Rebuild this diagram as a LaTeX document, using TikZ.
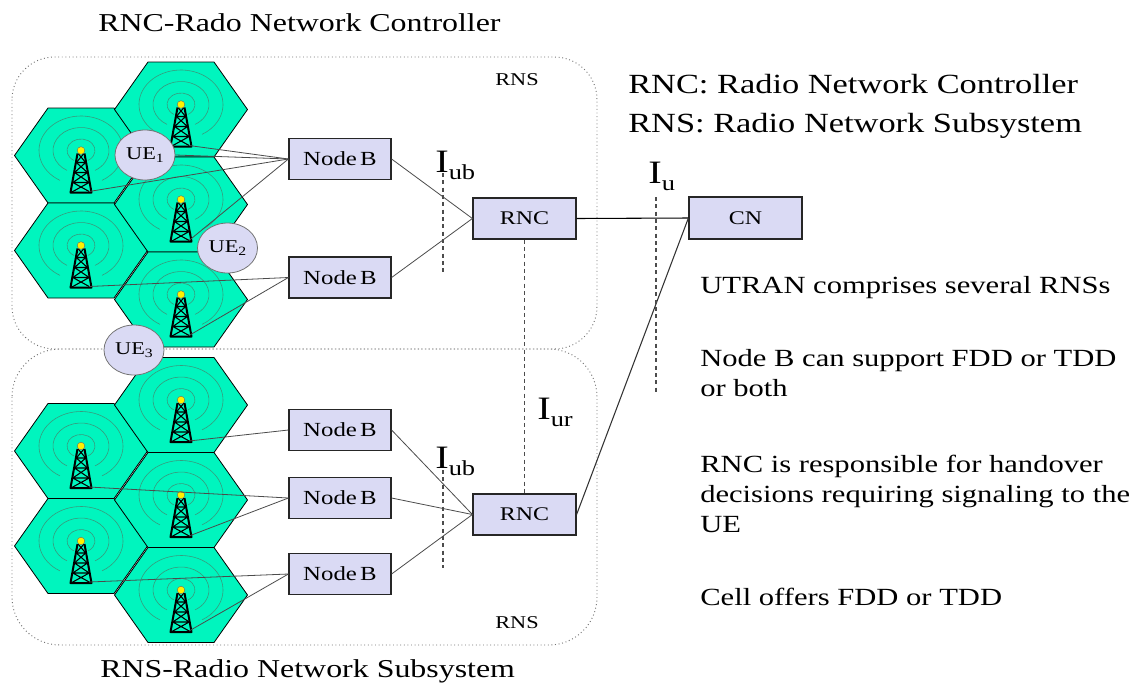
\documentclass[tikz,border=0pt]{standalone}
\usepackage{fontspec}
\setmainfont{Liberation Serif}[FakeStretch=1.24]
\usetikzlibrary{shapes.geometric, positioning, calc}

\definecolor{cellgreen}{RGB}{0,245,190}
\definecolor{wavegreen}{RGB}{55,155,125}
\definecolor{boxfill}{RGB}{218,218,244}
\definecolor{wiregray}{RGB}{75,75,75}

\tikzset{
    cell/.pic={
        % hexagonal cell
        \draw[line width=0.6pt, fill=cellgreen]
            (-66.5,0) -- (-33,-47.5) -- (33,-47.5) -- (66.5,0)
            -- (33,47.5) -- (-33,47.5) -- cycle;
        % radio waves round the antenna
        \foreach \rx/\ry in {14/11.5, 28/23, 42/34.5}
            \draw[wavegreen, line width=0.45pt]
                (0,-5) ++({\rx*cos(120)},{\ry*sin(120)})
                arc[start angle=120, end angle=420, x radius=\rx, y radius=\ry];
        % lattice mast
        \draw[line width=1.5pt, line join=round] (-3.5,-2) -- (-10.5,37) -- (10.5,37) -- (3.5,-2);
        \draw[line width=0.8pt]
            (-4.7,7) -- (4.7,7) (-6.5,17) -- (6.5,17) (-8.2,27) -- (8.2,27)
            (-3,-2) -- (4.7,7) (3,-2) -- (-4.7,7)
            (-4.7,7) -- (6.5,17) (4.7,7) -- (-6.5,17)
            (-6.5,17) -- (8.2,27) (6.5,17) -- (-8.2,27)
            (-8.2,27) -- (10,37) (8.2,27) -- (-10,37);
        \filldraw[fill=yellow, draw=black!60, line width=0.3pt] (0,-5) circle[radius=3.8];
        \coordinate (-foot) at (8,36);
    },
    rnsbox/.style={draw=black!55, dotted, line width=0.7pt},
    nodeb/.style={draw=black!85, fill=boxfill, line width=0.9pt, minimum width=76.5pt, minimum height=30.75pt, inner sep=0pt, font=\fontsize{15}{18}\selectfont},
    ctrl/.style={nodeb, minimum width=77.25pt, font=\fontsize{14.5}{17}\selectfont},
    ue/.style={ellipse, draw=black!55, fill=boxfill, line width=0.6pt, minimum width=45pt, minimum height=37.5pt, inner sep=0pt, font=\fontsize{13.5}{16}\selectfont},
    wire/.style={draw=wiregray, line width=0.6pt},
    iface/.style={draw=black!70, dashed, dash pattern=on 3pt off 2.5pt, line width=0.8pt},
    ifacelabel/.style={inner sep=0pt, anchor=base west},
    heading/.style={inner sep=0pt, anchor=base west, font=\fontsize{19.3}{22}\selectfont},
    legend/.style={inner sep=0pt, anchor=base west, font=\fontsize{20.8}{24}\selectfont},
    note/.style={inner sep=0pt, anchor=base west, align=left, font=\fontsize{18.5}{22.5}\selectfont},
    rnslabel/.style={inner sep=0pt, anchor=base west, font=\fontsize{13.5}{16}\selectfont},
}

% interface name: big I with lowered suffix
\newcommand{\ifname}[1]{{\fontsize{24.5}{26}\selectfont I}\raisebox{-5.5pt}{\fontsize{16}{18}\selectfont #1}}
\newcommand{\uename}[1]{UE\raisebox{-2.5pt}{\fontsize{9.5}{11}\selectfont #1}}

\begin{document}
\begin{tikzpicture}[x=0.75pt, y=-0.75pt]
    \useasboundingbox (0,0) rectangle (1138,686);

    % RNS frames
    \draw[rnsbox, rounded corners=32pt] (12,57) rectangle (597,349);
    \draw[rnsbox, rounded corners=36pt] (12,349) rectangle (597,645);

    % cells of the upper RNS
    \pic (ta) at (81,155.5) {cell};
    \pic (td) at (81,250.5) {cell};
    \pic (tb) at (181,109.5) {cell};
    \pic (tc) at (181,204.5) {cell};
    \pic (te) at (181,299.5) {cell};

    % cells of the lower RNS
    \pic (ba) at (81,451) {cell};
    \pic (bd) at (81,546) {cell};
    \pic (bb) at (181,405) {cell};
    \pic (bc) at (181,500) {cell};
    \pic (be) at (181,595) {cell};

    % Node Bs, RNCs, CN
    \node[nodeb] (nb1) at (340,159) {Node\,B};
    \node[nodeb] (nb2) at (340,277.5) {Node\,B};
    \node[nodeb] (nb3) at (340,430) {Node\,B};
    \node[nodeb] (nb4) at (340,498) {Node\,B};
    \node[nodeb] (nb5) at (340,574) {Node\,B};
    \node[ctrl] (rnc1) at (524.5,218.5) {RNC};
    \node[ctrl] (rnc2) at (524.5,514.5) {RNC};
    \node[ctrl, minimum width=84.75pt, minimum height=31.5pt] (cn) at (745.5,218) {CN};

    % mobiles
    \node[ue] (ue1) at (145,155) {\uename{1}};
    \node[ue] (ue2) at (227.5,248) {\uename{2}};
    \node[ue] (ue3) at (134,350) {\uename{3}};

    % radio links to the masts
    \draw[wire] (nb1.west) -- (tb-foot);
    \draw[wire] (nb1.west) -- (ue1.east);
    \draw[wire] (nb1.west) -- (ta-foot);
    \draw[wire] (nb1.west) -- (tc-foot);
    \draw[wire] (nb2.west) -- (td-foot);
    \draw[wire] (nb2.west) -- (te-foot);
    \draw[wire] (nb3.west) -- (bb-foot);
    \draw[wire] (nb4.west) -- (ba-foot);
    \draw[wire] (nb4.west) -- (bc-foot);
    \draw[wire] (nb5.west) -- (bd-foot);
    \draw[wire] (nb5.west) -- (be-foot);

    % Iub links
    \draw[wire] (nb1.east) -- (rnc1.west);
    \draw[wire] (nb2.east) -- (rnc1.west);
    \draw[wire] (nb3.east) -- (rnc2.west);
    \draw[wire] (nb4.east) -- (rnc2.west);
    \draw[wire] (nb5.east) -- (rnc2.west);

    % Iu links
    \draw[wire, draw=black, line width=0.8pt] (rnc1.east) -- (cn.west);
    \draw[wire, draw=black!80, line width=0.8pt] (rnc2.east) -- (cn.west);

    % interface markers
    \coordinate (iubA1) at (443,173);
    \coordinate (iubA2) at (443,273);
    \coordinate (iubB1) at (443,470);
    \coordinate (iubB2) at (443,568);
    \coordinate (iu1) at (656,197);
    \coordinate (iu2) at (656,392);
    \draw[iface] (iubA1) -- (iubA2);
    \draw[iface] (iubB1) -- (iubB2);
    \draw[iface] (iu1) -- (iu2);
    \draw[iface] (rnc1.south) -- (rnc2.north);

    \node[ifacelabel] (iubtop) at (435,172) {\ifname{ub}};
    \node[ifacelabel] (iubbot) at (435,468) {\ifname{ub}};
    \node[ifacelabel] (iur) at (537,419) {\ifname{ur}};
    \node[ifacelabel] (iu) at (648,183) {\ifname{u}};

    % frame names
    \node[rnslabel] (rnstop) at (495,85) {RNS};
    \node[rnslabel] (rnsbot) at (495,628) {RNS};

    % headings
    \node[heading] (title) at (98,31) {RNC-Rado Network Controller};
    \node[heading] (subtitle) at (100,677) {RNS-Radio Network Subsystem};

    % abbreviations
    \node[legend] (abbrnc) at (628,93) {RNC: Radio Network Controller};
    \node[legend] (abbrns) at (628,132) {RNS: Radio Network Subsystem};

    % remarks (anchored on the baseline of their last line)
    \node[note] (utran) at (700,293) {UTRAN comprises several RNSs};
    \node[note] (fddtdd) at (700,396) {Node B can support FDD or TDD\\or both};
    \node[note] (handover) at (700,532) {RNC is responsible for handover\\decisions requiring signaling to the\\UE};
    \node[note] (celloffer) at (700,605) {Cell offers FDD or TDD};
\end{tikzpicture}
\end{document}
